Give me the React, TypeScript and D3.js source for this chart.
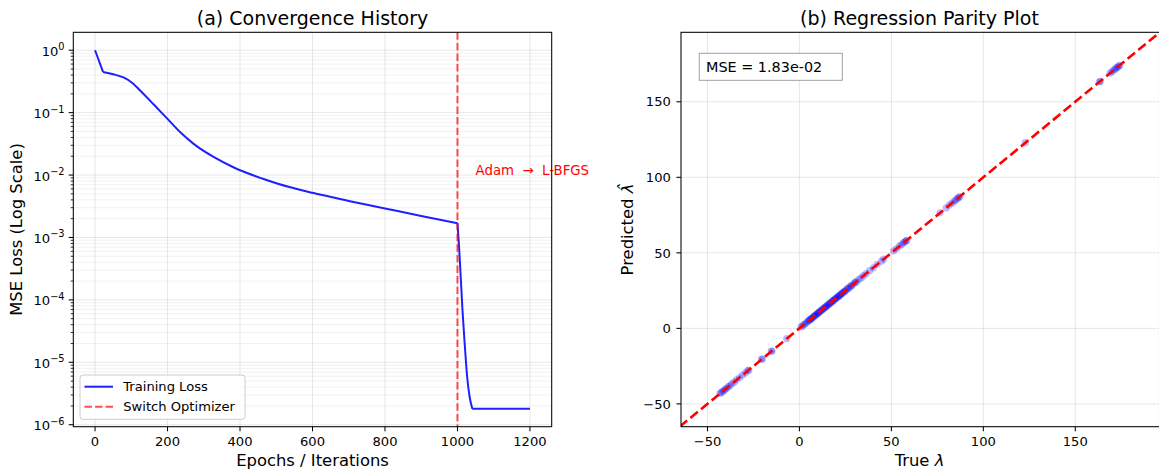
import React from 'react';
import * as d3 from 'd3';

// ---------------- data ----------------
const epochs = [0, 22, 50, 80, 102, 125, 162, 200, 236, 272, 327, 383, 461, 500, 600, 700, 800, 900, 1000, 1004, 1009, 1014, 1020, 1027, 1034, 1041, 1200];
const losses = [1.0, 0.449, 0.412, 0.363, 0.302, 0.224, 0.135, 0.0794, 0.0479, 0.0316, 0.0195, 0.0132, 0.0088, 0.0074, 0.00519, 0.00385, 0.00292, 0.00221, 0.00169, 7.8e-4, 2.3e-4, 6.6e-5, 1.95e-5, 5.6e-6, 2.7e-6, 1.8e-6, 1.8e-6];
const kinkEpochs = [22, 1000, 1041];
const switchEpoch = 1000;
const leftXTicks = [0, 200, 400, 600, 800, 1000, 1200];
const leftYExps = [0, -1, -2, -3, -4, -5, -6];

const trueLambda = [
  -43.2, -42.5, -41.8, -41.0, -40.3, -39.6, -38.7, -37.9, -36.8, -35.5, -34.2, -32.6, -31.0, -29.4, -28.1, -27.5,
  -20.6, -20.2, -15.3, -14.9, -6.9,
  0.8, 1.6, 2.4, 3.1, 3.9, 4.6, 5.2, 5.9, 6.5, 7.1, 7.8, 8.4, 9.0, 9.7, 10.3, 10.9, 11.6, 12.2, 12.8, 13.5, 14.1, 14.7,
  15.4, 16.0, 16.6, 17.3, 17.9, 18.5, 19.2, 19.8, 20.4, 21.1, 21.7, 22.3, 23.0, 23.6, 24.3, 25.1, 26.0, 26.9, 27.8, 28.8,
  29.9, 31.0, 32.2, 33.5, 34.8, 36.3, 38.1, 40.2, 42.3, 44.6, 45.8,
  5.5, 6.8, 8.1, 9.4, 10.6, 11.9, 13.2, 14.4, 15.7, 17.0, 18.2, 19.5, 20.8, 22.0, 23.3, 24.7, 26.4, 28.2, 30.3,
  51.2, 52.8, 54.3, 55.6, 56.5, 57.2, 57.9, 58.4,
  76.4, 79.8, 81.5, 83.0, 84.2, 85.1, 85.9, 86.6, 87.2,
  122.8,
  163.1, 163.6, 168.9, 170.0, 170.9, 171.7, 172.4, 173.0, 173.6, 174.2,
];
const predLambda = [
  -43.0, -42.6, -41.7, -41.1, -40.2, -39.7, -38.6, -38.0, -36.7, -35.6, -34.1, -32.7, -30.9, -29.5, -28.0, -27.6,
  -20.5, -20.3, -15.2, -15.0, -6.8,
  0.9, 1.5, 2.5, 3.0, 4.0, 4.5, 5.3, 5.8, 6.6, 7.0, 7.9, 8.3, 9.1, 9.6, 10.4, 10.8, 11.7, 12.1, 12.9, 13.4, 14.2, 14.6,
  15.5, 15.9, 16.7, 17.2, 18.0, 18.4, 19.3, 19.7, 20.5, 21.0, 21.8, 22.2, 23.1, 23.5, 24.4, 25.0, 26.1, 26.8, 27.9, 28.7,
  30.0, 30.9, 32.3, 33.4, 34.9, 36.2, 38.2, 40.1, 42.4, 44.5, 45.9,
  5.6, 6.7, 8.2, 9.3, 10.7, 11.8, 13.3, 14.3, 15.8, 16.9, 18.3, 19.4, 20.9, 21.9, 23.4, 24.6, 26.5, 28.1, 30.4,
  51.3, 52.7, 54.4, 55.5, 56.6, 57.1, 58.0, 58.3,
  76.5, 79.7, 81.6, 82.9, 84.3, 85.0, 86.0, 86.5, 87.3,
  122.9,
  163.2, 163.5, 169.0, 169.9, 171.0, 171.6, 172.5, 172.9, 173.7, 174.1,
];
const rightTicks = [-50, 0, 50, 100, 150];
const rightXLim = [-64.4, 195.8];
const rightYLim = [-65.1, 196.0];
const mseText = 'MSE = 1.83e-02';

// ---------------- layout ----------------
const W = 1159, H = 469;
const LA = { left: 73.3, right: 551.7, top: 32.3, bottom: 426.7 };
const RA = { left: 681, right: 1159.5, top: 32.3, bottom: 426.7 };
const FONT = '"DejaVu Sans", sans-serif';
const TICK = 4.6, MINOR = 2.6, PAD = 4.6;
const fmt = (v: number) => (v < 0 ? '\u2212' + Math.abs(v) : String(v));

export default function App() {
  // left scales
  const x = d3.scaleLinear().domain([-60, 1260]).range([LA.left, LA.right]);
  const logs = losses.map((v) => Math.log10(v));
  const lmax = d3.max(logs)!, lmin = d3.min(logs)!;
  const D = lmax - lmin;
  const y = d3.scaleLog().domain([Math.pow(10, lmin - 0.05 * D), Math.pow(10, lmax + 0.05 * D)]).range([LA.bottom, LA.top]);
  const [yd0, yd1] = y.domain();
  const minorTicks: number[] = [];
  for (let e = -8; e <= 1; e++) for (let k = 2; k <= 9; k++) {
    const v = k * Math.pow(10, e);
    if (v >= yd0 && v <= yd1) minorTicks.push(v);
  }
  const pts = epochs.map((e, i) => [e, losses[i]] as [number, number]);
  // split the series at its sharp corners so the smooth curve keeps them crisp
  const segments: [number, number][][] = [];
  let cur: [number, number][] = [];
  pts.forEach((p) => {
    cur.push(p);
    if (kinkEpochs.includes(p[0])) {
      segments.push(cur);
      cur = [p];
    }
  });
  if (cur.length > 1) segments.push(cur);
  const line = d3.line<[number, number]>().x((d) => x(d[0])).y((d) => y(d[1])).curve(d3.curveMonotoneX);
  const pathD = segments.map((s) => line(s)!).join('');

  // right scales
  const rx = d3.scaleLinear().domain(rightXLim).range([RA.left, RA.right]);
  const ry = d3.scaleLinear().domain(rightYLim).range([RA.bottom, RA.top]);
  const lo = Math.min(rightXLim[0], rightYLim[0]);
  const hi = Math.max(rightXLim[1], rightYLim[1]);

  const gridC = '#b0b0b0';
  const lcx = (LA.left + LA.right) / 2;
  const rcx = (RA.left + 1158) / 2;

  return (
    <svg width={W} height={H} style={{ position: 'absolute', left: 0, top: 0, background: '#fff' }} fontFamily={FONT}>
      <defs>
        <clipPath id="clipL"><rect x={LA.left} y={LA.top} width={LA.right - LA.left} height={LA.bottom - LA.top} /></clipPath>
        <clipPath id="clipR"><rect x={RA.left} y={RA.top} width={RA.right - RA.left} height={RA.bottom - RA.top} /></clipPath>
      </defs>
      <rect x={0} y={0} width={W} height={H} fill="#fff" />

      {/* ============ LEFT PANEL ============ */}
      <g clipPath="url(#clipL)">
        {minorTicks.map((v, i) => (
          <line key={'mg' + i} x1={LA.left} x2={LA.right} y1={y(v)} y2={y(v)} stroke={gridC} strokeOpacity={0.22} strokeWidth={0.8} />
        ))}
        {leftYExps.map((e) => (
          <line key={'yg' + e} x1={LA.left} x2={LA.right} y1={y(Math.pow(10, e))} y2={y(Math.pow(10, e))} stroke={gridC} strokeOpacity={0.3} strokeWidth={1} />
        ))}
        {leftXTicks.map((t) => (
          <line key={'xg' + t} x1={x(t)} x2={x(t)} y1={LA.top} y2={LA.bottom} stroke={gridC} strokeOpacity={0.3} strokeWidth={1} />
        ))}
        <path d={pathD} fill="none" stroke="#0000ff" strokeOpacity={0.88} strokeWidth={2} strokeLinejoin="round" />
        <line x1={x(switchEpoch)} x2={x(switchEpoch)} y1={LA.top} y2={LA.bottom} stroke="#ff0000" strokeOpacity={0.7} strokeWidth={2} strokeDasharray="7.4,3.2" />
      </g>
      <text x={x(1050)} y={y(1e-2)} fontSize={13.3} fill="#ff0000">{'Adam\u00a0\u00a0→\u00a0\u00a0L-BFGS'}</text>
      {/* spines */}
      <rect x={LA.left} y={LA.top} width={LA.right - LA.left} height={LA.bottom - LA.top} fill="none" stroke="#000" strokeWidth={1.05} />
      {/* x ticks */}
      {leftXTicks.map((t) => (
        <g key={'xt' + t}>
          <line x1={x(t)} x2={x(t)} y1={LA.bottom} y2={LA.bottom + TICK} stroke="#000" strokeWidth={1.05} />
          <text x={x(t)} y={446} fontSize={13.1} textAnchor="middle" fill="#000">{fmt(t)}</text>
        </g>
      ))}
      {/* y ticks */}
      {minorTicks.map((v, i) => (
        <line key={'mt' + i} x1={LA.left - MINOR} x2={LA.left} y1={y(v)} y2={y(v)} stroke="#000" strokeWidth={0.8} />
      ))}
      {leftYExps.map((e) => {
        const yy = y(Math.pow(10, e));
        return (
          <g key={'yt' + e}>
            <line x1={LA.left - TICK} x2={LA.left} y1={yy} y2={yy} stroke="#000" strokeWidth={1.05} />
            <text x={LA.left - TICK - PAD + 0.5} y={yy + 5.5} fontSize={13.1} textAnchor="end" fill="#000">
              <tspan>10</tspan>
              <tspan dy={-5.5} fontSize={9.8}>{e < 0 ? '\u2212' + Math.abs(e) : String(e)}</tspan>
            </text>
          </g>
        );
      })}
      <text x={lcx} y={24.5} fontSize={19} textAnchor="middle" fill="#000">(a) Convergence History</text>
      <text x={lcx} y={466} fontSize={16.4} textAnchor="middle" fill="#000">Epochs / Iterations</text>
      <text transform={`translate(22,${(LA.top + LA.bottom) / 2}) rotate(-90)`} fontSize={16.4} textAnchor="middle" fill="#000">MSE Loss (Log Scale)</text>
      {/* legend */}
      <g>
        <rect x={80} y={375} width={165} height={44.3} rx={3} fill="#fff" fillOpacity={0.8} stroke="#cccccc" strokeWidth={1} />
        <line x1={84.5} x2={113} y1={386.7} y2={386.7} stroke="#0000ff" strokeOpacity={0.88} strokeWidth={2} />
        <text x={123.3} y={391.4} fontSize={13.1} fill="#000">Training Loss</text>
        <line x1={84.5} x2={113} y1={406.7} y2={406.7} stroke="#ff0000" strokeOpacity={0.7} strokeWidth={2} strokeDasharray="7.4,3.2" />
        <text x={123.3} y={411.4} fontSize={13.1} fill="#000">Switch Optimizer</text>
      </g>

      {/* ============ RIGHT PANEL ============ */}
      <g clipPath="url(#clipR)">
        {rightTicks.map((t) => (
          <g key={'rg' + t}>
            <line x1={rx(t)} x2={rx(t)} y1={RA.top} y2={RA.bottom} stroke={gridC} strokeOpacity={0.3} strokeWidth={1} />
            <line x1={RA.left} x2={RA.right} y1={ry(t)} y2={ry(t)} stroke={gridC} strokeOpacity={0.3} strokeWidth={1} />
          </g>
        ))}
        {trueLambda.map((t, i) => (
          <circle key={'p' + i} cx={rx(t)} cy={ry(predLambda[i])} r={3.6} fill="#0000ff" fillOpacity={0.27} />
        ))}
        <line x1={rx(lo)} y1={ry(lo)} x2={rx(hi)} y2={ry(hi)} stroke="#ff0000" strokeWidth={2.6} strokeDasharray="9.6,4.2" />
      </g>
      <rect x={RA.left} y={RA.top} width={RA.right - RA.left} height={RA.bottom - RA.top} fill="none" stroke="#000" strokeWidth={1.05} />
      {rightTicks.map((t) => (
        <g key={'rt' + t}>
          <line x1={rx(t)} x2={rx(t)} y1={RA.bottom} y2={RA.bottom + TICK} stroke="#000" strokeWidth={1.05} />
          <text x={rx(t)} y={446} fontSize={13.1} textAnchor="middle" fill="#000">{fmt(t)}</text>
          <line x1={RA.left - TICK} x2={RA.left} y1={ry(t)} y2={ry(t)} stroke="#000" strokeWidth={1.05} />
          <text x={RA.left - TICK - PAD - 1} y={ry(t) + 4.7} fontSize={13.1} textAnchor="end" fill="#000">{fmt(t)}</text>
        </g>
      ))}
      <rect x={699.3} y={53.3} width={143} height={27} fill="#fff" stroke="#a0a0a0" strokeWidth={1} />
      <text x={706} y={72} fontSize={14.4} fill="#000">{mseText}</text>
      <text x={rcx} y={24.5} fontSize={19} textAnchor="middle" fill="#000">(b) Regression Parity Plot</text>
      <text x={rcx} y={466} fontSize={16.4} textAnchor="middle" fill="#000">
        True <tspan fontStyle="italic">λ</tspan>
      </text>
      <text transform={`translate(633,${(RA.top + RA.bottom) / 2}) rotate(-90)`} fontSize={16.4} textAnchor="middle" fill="#000">
        Predicted <tspan fontStyle="italic">λ̂</tspan>
      </text>
    </svg>
  );
}
